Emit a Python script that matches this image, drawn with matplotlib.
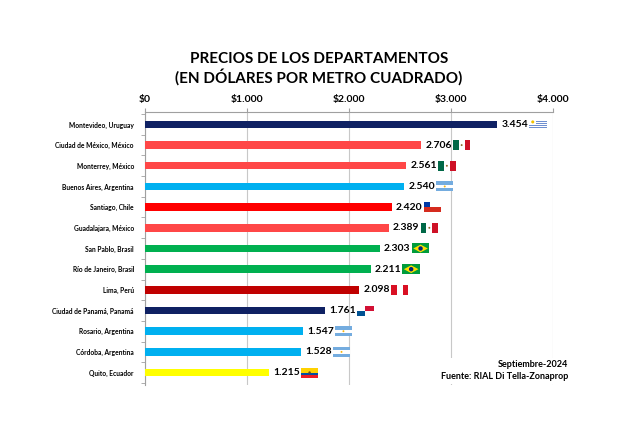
import matplotlib
matplotlib.use("Agg")
import matplotlib.pyplot as plt
from matplotlib.patches import Rectangle, Polygon, Circle
from matplotlib.offsetbox import DrawingArea, AnnotationBbox

plt.rcParams["font.family"] = ["Lato", "DejaVu Sans"]

cities = [
    "Montevideo, Uruguay", "Ciudad de México, México", "Monterrey, México",
    "Buenos Aires, Argentina", "Santiago, Chile", "Guadalajara, México",
    "San Pablo, Brasil", "Río de Janeiro, Brasil", "Lima, Perú",
    "Ciudad de Panamá, Panamá", "Rosario, Argentina", "Córdoba, Argentina",
    "Quito, Ecuador",
]
values = [3454, 2706, 2561, 2540, 2420, 2389, 2303, 2211, 2098, 1761, 1547, 1528, 1215]
countries = ["UY", "MX", "MX", "AR", "CL", "MX", "BR", "BR", "PE", "PA", "AR", "AR", "EC"]
ticks = [0, 1000, 2000, 3000, 4000]
tick_labels = ["$0", "$1.000", "$2.000", "$3.000", "$4.000"]

bar_colors = {
    "UY": "#0f2163", "MX": "#ff4747", "AR": "#00b0f0", "CL": "#ff0000",
    "BR": "#00b050", "PE": "#c00000", "PA": "#0f2163", "EC": "#ffff00",
}


def make_flag(code, w=12.5, h=7.2):
    # tamaño en puntos (~17x10 px a 100 dpi)
    da = DrawingArea(w, h, 0, 0)
    def rect(x, y, ww, hh, c):
        da.add_artist(Rectangle((x, y), ww, hh, facecolor=c, edgecolor="none"))
    if code == "UY":
        for i in range(9):
            rect(0, h - (i + 1) * h / 9, w, h / 9, "white" if i % 2 == 0 else "#6f8fd0")
        rect(0, h / 2, w * 0.4, h / 2, "white")
        da.add_artist(Circle((w * 0.2, h * 0.75), 1.1, facecolor="#f2c200", edgecolor="none"))
    elif code == "MX":
        rect(0, 0, w / 3, h, "#006847")
        rect(w / 3, 0, w / 3, h, "white")
        rect(2 * w / 3, 0, w / 3, h, "#ce1126")
        da.add_artist(Circle((w / 2, h / 2), 0.7, facecolor="#8a6a2a", edgecolor="none"))
    elif code == "AR":
        rect(0, 0, w, h / 3, "#74acdf")
        rect(0, h / 3, w, h / 3, "white")
        rect(0, 2 * h / 3, w, h / 3, "#74acdf")
        da.add_artist(Circle((w / 2, h / 2), 0.7, facecolor="#f6b40e", edgecolor="none"))
    elif code == "CL":
        rect(0, 0, w, h / 2, "#d52b1e")
        rect(0, h / 2, w, h / 2, "white")
        rect(0, h / 2, w / 3, h / 2, "#0039a6")
    elif code == "BR":
        rect(0, 0, w, h, "#009c3b")
        da.add_artist(Polygon([(1.0, h / 2), (w / 2, h - 0.8), (w - 1.0, h / 2), (w / 2, 0.8)],
                              facecolor="#ffdf00", edgecolor="none"))
        da.add_artist(Circle((w / 2, h / 2), 1.6, facecolor="#002776", edgecolor="none"))
    elif code == "PE":
        rect(0, 0, w / 3, h, "#d91023")
        rect(w / 3, 0, w / 3, h, "white")
        rect(2 * w / 3, 0, w / 3, h, "#d91023")
    elif code == "PA":
        rect(0, 0, w, h, "white")
        rect(w / 2, h / 2, w / 2, h / 2, "#d21034")
        rect(0, 0, w / 2, h / 2, "#005293")
    elif code == "EC":
        rect(0, h / 2, w, h / 2, "#ffd100")
        rect(0, h / 4, w, h / 4, "#034ea2")
        rect(0, 0, w, h / 4, "#ed1c24")
        da.add_artist(Circle((w / 2, h / 2), 0.9, facecolor="#6b4b1f", edgecolor="none"))
    return da


fig = plt.figure(figsize=(6.42, 4.28), dpi=100)
ax = fig.add_axes([0.2259, 0.1005, 0.6355, 0.6378])

y = list(range(len(cities)))
ax.barh(y, values, height=0.36, color=[bar_colors[c] for c in countries], zorder=3)
ax.set_ylim(len(cities) - 0.4, -0.6)
ax.set_xlim(0, 4000)

ax.xaxis.tick_top()
ax.set_xticks(ticks)
ax.set_xticklabels(tick_labels, fontsize=7.5, fontweight="bold")
ax.tick_params(axis="x", direction="out", length=3, color="#a0a0a0", pad=3)
ax.set_yticks(y)
ax.set_yticklabels(cities, fontsize=4.8, fontweight="bold")
ax.set_yticks([i + 0.5 for i in range(-1, len(cities))], minor=True)
ax.tick_params(axis="y", which="major", length=0, pad=8)
ax.tick_params(axis="y", which="minor", direction="out", length=3, color="#a0a0a0")
ax.grid(axis="x", color="#c8c8c8", linewidth=0.8, zorder=0)

for s in ["right", "bottom"]:
    ax.spines[s].set_visible(False)
for s in ["top", "left"]:
    ax.spines[s].set_color("#a0a0a0")
    ax.spines[s].set_linewidth(0.8)

for i, (v, c) in enumerate(zip(values, countries)):
    label = f"{v / 1000:.3f}"
    ax.annotate(label, (v, i), xytext=(3, 0), textcoords="offset points",
                va="center", ha="left", fontsize=7.5, fontweight="bold", zorder=4)
    ab = AnnotationBbox(make_flag(c), (v, i), xybox=(23, 0), xycoords="data",
                        boxcoords="offset points", box_alignment=(0, 0.5),
                        frameon=False, pad=0, zorder=4)
    ax.add_artist(ab)

fig.text(0.497, 0.840, "PRECIOS DE LOS DEPARTAMENTOS\n(EN DÓLARES POR METRO CUADRADO)",
         ha="center", va="center", fontsize=11, fontweight="bold", linespacing=1.2)

fig.text(0.885, 0.11, "Septiembre-2024\nFuente: RIAL Di Tella-Zonaprop",
         ha="right", va="bottom", fontsize=6.5, fontweight="bold", linespacing=1.35,
         bbox=dict(facecolor="white", edgecolor="none", pad=2))

fig.savefig("out.png", dpi=100)
